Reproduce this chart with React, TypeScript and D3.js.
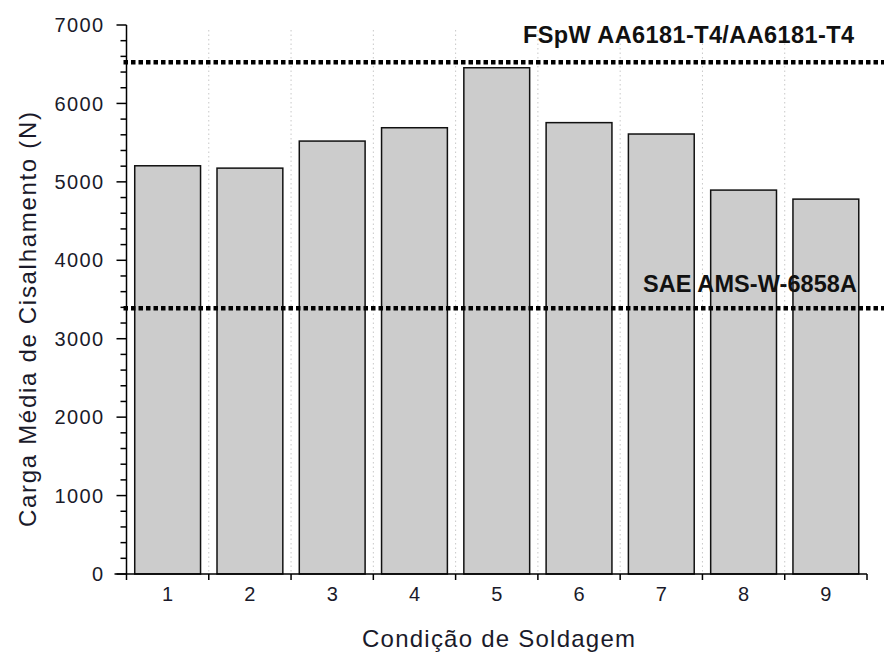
import React from "react";
import * as d3 from "d3";

const categories = ["1", "2", "3", "4", "5", "6", "7", "8", "9"];
const meanLoad = [5205, 5175, 5520, 5690, 6455, 5755, 5610, 4895, 4780];
const yTicks = [0, 1000, 2000, 3000, 4000, 5000, 6000, 7000];
const refLines = [
  { label: "FSpW AA6181-T4/AA6181-T4", value: 6525 },
  { label: "SAE AMS-W-6858A", value: 3390 },
];

const W = 884;
const H = 653;
const left = 126.5;
const right = 867;
const top = 25;
const bottom = 574;

export default function App() {
  const x = d3.scaleBand<string>().domain(categories).range([left, right]).paddingInner(0.2).paddingOuter(0.1);
  const xb = d3.scaleLinear().domain([0, categories.length]).range([left, right]);
  const y = d3.scaleLinear().domain([0, 7000]).range([bottom, top]);
  const minor = d3.range(0, 7001, 200).filter((v) => v % 1000 !== 0);
  const font = "Arial, 'Liberation Sans', sans-serif";
  const ink = "#1a1a2a";

  return (
    <svg width={W} height={H} style={{ position: "absolute", left: 0, top: 0, background: "#fff" }}>
      {/* vertical dotted grid at category boundaries */}
      {d3.range(1, categories.length).map((i) => (
        <line key={"g" + i} x1={xb(i)} x2={xb(i)} y1={top + 5} y2={bottom} stroke="#c8c8c8" strokeDasharray="1.5,3" />
      ))}
      {/* bars */}
      {categories.map((c, i) => (
        <rect key={c} x={x(c)!} y={y(meanLoad[i])} width={x.bandwidth()} height={bottom - y(meanLoad[i])} fill="#cccccc" stroke="#111" strokeWidth={1.5} />
      ))}
      {/* reference lines */}
      {refLines.map((r) => (
        <line key={r.label} x1={left - 3} x2={W} y1={y(r.value)} y2={y(r.value)} stroke="#000" strokeWidth={4.5} strokeDasharray="4.5,3" />
      ))}
      <text x={523} y={y(refLines[0].value) - 19} textLength={331} lengthAdjust="spacing" fontFamily={font} fontWeight="bold" fontSize={23.5} fill="#111">
        {refLines[0].label}
      </text>
      <text x={643} y={y(refLines[1].value) - 16} textLength={214} lengthAdjust="spacing" fontFamily={font} fontWeight="bold" fontSize={23.5} fill="#111">
        {refLines[1].label}
      </text>
      {/* y axis */}
      <line x1={left} x2={left} y1={top} y2={bottom} stroke="#000" strokeWidth={1.5} />
      {yTicks.map((t) => (
        <g key={"y" + t}>
          <line x1={left - 10} x2={left} y1={y(t)} y2={y(t)} stroke="#000" strokeWidth={1.5} />
          <text x={left - 22} y={y(t)} dy="0.36em" textAnchor="end" fontFamily={font} fontSize={20} letterSpacing={1.4} fill={ink}>
            {t}
          </text>
        </g>
      ))}
      {minor.map((t) => (
        <line key={"m" + t} x1={left - 6} x2={left} y1={y(t)} y2={y(t)} stroke="#000" strokeWidth={1.5} />
      ))}
      {/* x axis */}
      <line x1={left - 12} x2={right} y1={bottom} y2={bottom} stroke="#000" strokeWidth={1.5} />
      {d3.range(0, categories.length + 1).map((i) => (
        <line key={"xt" + i} x1={xb(i)} x2={xb(i)} y1={bottom} y2={bottom + 6} stroke="#000" strokeWidth={1.5} />
      ))}
      {categories.map((c) => (
        <text key={"xl" + c} x={x(c)! + x.bandwidth() / 2} y={600.5} textAnchor="middle" fontFamily={font} fontSize={20} fill={ink}>
          {c}
        </text>
      ))}
      {/* axis titles */}
      <text x={362} y={646.5} textLength={273} lengthAdjust="spacing" fontFamily={font} fontSize={24} fill={ink}>
        Condição de Soldagem
      </text>
      <text transform="translate(35.5,527) rotate(-90)" textLength={415} lengthAdjust="spacing" fontFamily={font} fontSize={24} fill={ink}>
        Carga Média de Cisalhamento (N)
      </text>
    </svg>
  );
}
